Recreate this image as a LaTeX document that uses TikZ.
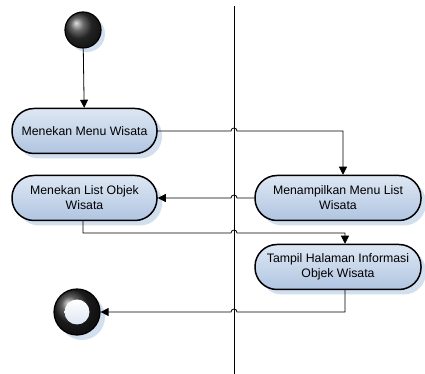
\documentclass[tikz,border=0pt]{standalone}
\usepackage{fontspec}
\setmainfont{Liberation Sans}
\definecolor{actblue1}{RGB}{222, 231, 243}
\definecolor{actblue2}{RGB}{176, 197, 225}
\definecolor{shadowblue}{RGB}{210, 223, 239}
\usetikzlibrary{arrows.meta, positioning, calc, shadows}

\begin{document}
\begin{tikzpicture}[x=1pt, y=1pt,
    activity/.style={draw, line width=1.5pt, rounded corners=22pt, top color=actblue1, bottom color=actblue2,
      minimum height=45pt, align=center, font=\fontsize{12.3}{15}\selectfont, inner sep=2pt,
      drop shadow={shadow xshift=5pt, shadow yshift=-5pt, fill=shadowblue, opacity=1}},
    flow/.style={line width=0.8pt, -{Triangle[length=8pt, width=8pt]}}]
  \useasboundingbox (0,0) rectangle (425,374);

  % swimlane divider
  \coordinate (lanetop) at (234,368);
  \coordinate (lanebot) at (234,0);
  \draw[line width=0.9pt] (lanetop) -- (lanebot);

  % start and end
  \node[circle, draw, line width=1.2pt, minimum size=36pt, inner sep=0pt, ball color=black!80,
    drop shadow={shadow xshift=4pt, shadow yshift=-4pt, fill=shadowblue, opacity=1}] (start) at (83,344) {};
  \node[circle, draw, line width=1.2pt, minimum size=46pt, inner sep=0pt, ball color=black!85,
    drop shadow={shadow xshift=5pt, shadow yshift=-5pt, fill=shadowblue, opacity=1}] (finish) at (77,62) {};
  \node[circle, top color=white, bottom color=actblue1, minimum size=25pt, inner sep=0pt] (finishdot) at (finish) {};

  % activities
  \node[activity, minimum width=145pt] (menu) at (84.5,243) {Menekan Menu Wisata};
  \node[activity, minimum width=166pt] (listmenu) at (338,176) {Menampilkan Menu List\\Wisata};
  \node[activity, minimum width=145pt] (list) at (84.5,176) {Menekan List Objek\\Wisata};
  \node[activity, minimum width=166pt] (info) at (338,107) {Tampil Halaman Informasi\\Objek Wisata};

  % transitions
  \draw[flow] (start) -- (menu);
  \draw[flow] (menu.east) -- ([xshift=-3pt]lanetop |- menu.east) arc[start angle=180, end angle=0, radius=3pt]
    -- ([xshift=5pt]listmenu.north |- menu.east) -- ([xshift=5pt]listmenu.north);
  \draw[flow] (listmenu.west) -- ([xshift=3pt]lanetop |- listmenu.west) arc[start angle=0, end angle=180, radius=3pt]
    -- (list.east);
  \draw[flow] ([xshift=-1.5pt]list.south) |- ([xshift=-3pt]lanetop |- 0,141) arc[start angle=180, end angle=0, radius=3pt]
    -- ([xshift=7pt]info.north |- 0,141) -- ([xshift=7pt]info.north);
  \draw[flow] ([xshift=7pt]info.south) |- ([xshift=3pt]lanetop |- finish.east) arc[start angle=0, end angle=180, radius=3pt]
    -- (finish.east);
\end{tikzpicture}
\end{document}
